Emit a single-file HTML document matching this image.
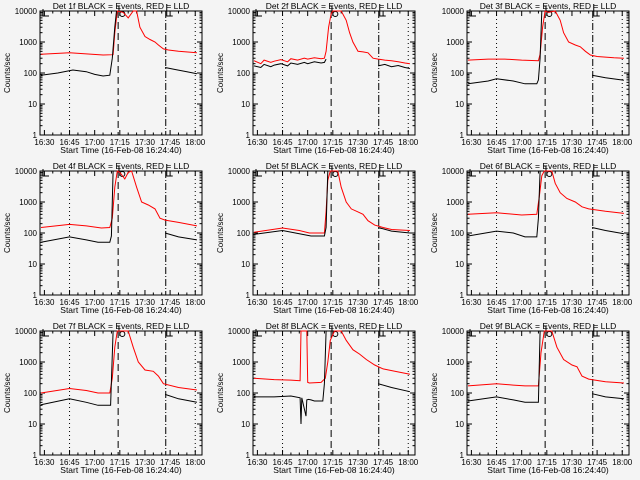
<!DOCTYPE html>
<html><head><meta charset="utf-8"><style>
html,body{margin:0;padding:0;background:#f4f4f4;}
svg{display:block;font-family:"Liberation Sans",sans-serif;}
</style></head><body>
<svg id="c" width="640" height="480" viewBox="0 0 640 480"></svg>
<script>
// time in minutes since 16:30; values in counts/sec
const detNames = ["1f","2f","3f","4f","5f","6f","7f","8f","9f"];
const tickLabels = ["16:30","16:45","17:00","17:15","17:30","17:45","18:00"];
const tickTimes = [0,15,30,45,60,75,90];
const yTickLabels = ["1","10","100","1000","10000"];
const yTickVals = [1,10,100,1000,10000];
const r1t=[-2,15,35,41,42,43.5,47,50,53,55,57,60,63,66,68,71,74,80,91];
const r1v=[400,450,380,390,2000,10000,9000,6000,10000,10000,3000,1500,1200,1000,800,600,550,500,450];
const b1t=[-2,8,17,25,30,35,39,40.5,42,43,null,72,78,85,91];
const b1v=[85,100,125,110,90,80,85,300,3000,12000,null,150,130,110,95];
const r2t=[-2,2,4,8,10,14,18,20,24,28,30,34,38,40,41,42.5,44,45,50,53,55,57,60,63,66,69,72,76,80,84,88,91];
const r2v=[250,200,260,220,240,270,230,290,260,300,280,310,290,300,500,3000,8000,10000,12000,5000,2000,1000,500,480,450,300,280,260,250,230,210,200];
const b2t=[-2,2,4,8,10,14,18,20,24,28,30,34,38,40,41,null,72,76,80,84,88,91];
const b2v=[170,150,190,160,180,200,170,210,190,220,200,230,210,220,280,null,170,190,160,175,150,140];
const r3t=[-2,10,20,30,40,41,42.5,44,46,50,53,55,58,62,65,68,71,75,85,91];
const r3v=[260,280,280,260,250,400,3000,10000,9000,12000,5000,2000,1000,800,700,500,380,340,310,300];
const b3t=[-2,10,15,25,32,39,40,41,42,null,72,80,91];
const b3v=[45,55,65,55,45,45,60,300,12000,null,85,70,58];
const r4t=[-2,15,25,34,39,40.5,42,43.5,45,48,50,52,55,58,62,66,69,72,80,91];
const r4v=[150,190,170,145,150,300,3000,10000,9000,5500,9000,10000,3000,1000,800,600,300,260,220,170];
const b4t=[-2,15,25,32,39,40,41,null,72,80,91];
const b4v=[50,75,60,50,50,80,12000,null,100,75,60];
const r5t=[-2,15,25,31,40,41,42,43.5,45,48,50,53,56,60,63,66,70,75,80,91];
const r5v=[105,145,120,100,100,500,5000,10000,14000,10000,3000,1000,600,480,400,250,180,150,130,120];
const b5t=[-2,15,25,32,40,41,42,null,72,80,91];
const b5v=[90,120,95,80,80,150,12000,null,150,115,100];
const r6t=[-2,15,30,39,40.5,42,43.5,45,48,50,53,57,62,66,70,80,91];
const r6v=[400,450,380,400,1500,7000,10000,11000,10000,4000,2000,1300,1000,700,600,500,430];
const b6t=[-2,15,25,32,39,40,41,null,72,80,91];
const b6v=[80,115,100,75,75,300,12000,null,150,120,95];
const r7t=[-2,15,25,32,39,40.5,42,43.5,45,50,53,56,60,65,68,71,80,91];
const r7v=[100,140,120,100,100,300,3000,10000,10000,10000,3000,1000,550,500,350,200,150,125];
const b7t=[-2,15,25,32,39.5,41,null,72,80,91];
const b7v=[42,65,50,40,40,12000,null,90,65,50];
const r8t=[-2,10,20,25.5,26,29.5,30,31,38,40.5,42,43.5,46,50,53,57,61,65,70,75,82,91];
const r8v=[300,270,260,250,12000,12000,220,210,220,300,1000,5000,10000,10000,5000,2500,1800,1200,800,600,500,400];
const b8t=[-2,10,20,25.5,26,26.5,29,29.5,30.5,32,34,39,40,41,null,72,80,91];
const b8v=[75,75,80,70,10,70,18,60,62,60,55,55,200,12000,null,200,150,110];
const r9t=[-2,15,25,32,40,41.5,43.5,45,48,51,55,60,63,66,70,80,91];
const r9v=[170,200,180,170,170,2000,10000,11000,10000,3000,1200,800,700,350,280,230,210];
const b9t=[-2,15,25,32,40,41,null,72,80,91];
const b9v=[55,75,60,50,50,12000,null,95,75,65];
const redT=[r1t,r2t,r3t,r4t,r5t,r6t,r7t,r8t,r9t], redV=[r1v,r2v,r3v,r4v,r5v,r6v,r7v,r8v,r9v];
const blkT=[b1t,b2t,b3t,b4t,b5t,b6t,b7t,b8t,b9t], blkV=[b1v,b2v,b3v,b4v,b5v,b6v,b7v,b8v,b9v];

const svg=document.getElementById('c');
const NS='http://www.w3.org/2000/svg';
function mk(tag,attrs,parent){const e=document.createElementNS(NS,tag);for(const k in attrs)e.setAttribute(k,attrs[k]);parent.appendChild(e);return e;}
for(let p=0;p<9;p++){
  const ox=Math.round((p%3)*213.33), oy=Math.floor(p/3)*160;
  const L=ox+40,R=ox+202,T=oy+11,B=oy+135;
  const xs=t=>L+4.4+t*1.676;
  const ys=v=>{v=Math.max(1,Math.min(v,10000));return B-(Math.log10(v))*31;};
  const g=mk('g',{},svg);
  
  
  const title=mk('text',{x:(L+R)/2,y:oy+9,'font-size':8.5,'text-anchor':'middle',fill:'#000'},g);
  title.textContent='Det '+detNames[p]+' BLACK = Events, RED = LLD';
  
  
  const yl=mk('text',{x:0,y:0,'font-size':8,'text-anchor':'middle',transform:`translate(${ox+10},${(T+B)/2}) rotate(-90)`},g);
  yl.textContent='Counts/sec';
  
  
  const xl=mk('text',{x:(L+R)/2,y:oy+153,'font-size':8.5,'text-anchor':'middle'},g);
  xl.textContent='Start Time (16-Feb-08 16:24:40)';
  
  
  const box=mk('rect',{x:L,y:T,width:R-L,height:B-T,fill:'none',stroke:'#000','stroke-width':1},g);
  
  
  yTickVals.forEach((v,i)=>{
    const y=ys(v);
    mk('line',{x1:L,x2:L+5,y1:y,y2:y,stroke:'#000'},g);
    mk('line',{x1:R-5,x2:R,y1:y,y2:y,stroke:'#000'},g);
    const t=mk('text',{x:L-3,y:y+3,'font-size':8,'text-anchor':'end'},g);
    t.textContent=yTickLabels[i];
    
    
    if(v<10000)for(let m=2;m<10;m++){const yy=ys(v*m);mk('line',{x1:L,x2:L+2.5,y1:yy,y2:yy,stroke:'#000'},g);mk('line',{x1:R-2.5,x2:R,y1:yy,y2:yy,stroke:'#000'},g);}
  });
  tickTimes.forEach((tt,i)=>{
    const x=xs(tt);
    mk('line',{x1:x,x2:x,y1:B,y2:B-5,stroke:'#000'},g);
    mk('line',{x1:x,x2:x,y1:T,y2:T+5,stroke:'#000'},g);
    const t=mk('text',{x:x,y:oy+145,'font-size':8,'text-anchor':'middle'},g);
    t.textContent=tickLabels[i];
    
    
  });
  for(let m=0;m<=90;m+=5){if(m%15){const x=xs(m);mk('line',{x1:x,x2:x,y1:B,y2:B-2.5,stroke:'#000'},g);mk('line',{x1:x,x2:x,y1:T,y2:T+2.5,stroke:'#000'},g);}}
  [[15,'1,3'],[90,'1,3'],[44,'7,4'],[72.4,'7,2,1,2']].forEach(([tt,d])=>{
    const x=xs(tt);const ln=mk('line',{x1:x,x2:x,y1:T,y2:B,stroke:'#000','stroke-dasharray':d},g);
    
    
  });
  mk('path',{d:`M${L+3},${T-2}V${T+5}H${L+9}`,fill:'none',stroke:'#000'},g);
  mk('path',{d:`M${xs(73)},${T-7}V${T+5}H${xs(73)+6}`,fill:'none',stroke:'#000'},g);
  mk('path',{d:`M${xs(43)},${T-5}H${xs(44.5)}V${T}`,fill:'none',stroke:'#000'},g);
  mk('circle',{cx:xs(46.5),cy:T+3,r:2.5,fill:'none',stroke:'#000'},g);
  function line(ts,vs,col,name){
    let d='',pen=false;
    for(let i=0;i<ts.length;i++){
      if(ts[i]===null){pen=false;continue;}
      d+=(pen?'L':'M')+xs(ts[i]).toFixed(1)+','+ys(vs[i]).toFixed(1);pen=true;
    }
    const e=mk('path',{d:d,fill:'none',stroke:col,'stroke-width':1},g);
    
    
  }
  line(redT[p],redV[p],'#ff0000','lld-series-red');
  line(blkT[p],blkV[p],'#000000','events-series-black');
}
</script>
</body></html>
